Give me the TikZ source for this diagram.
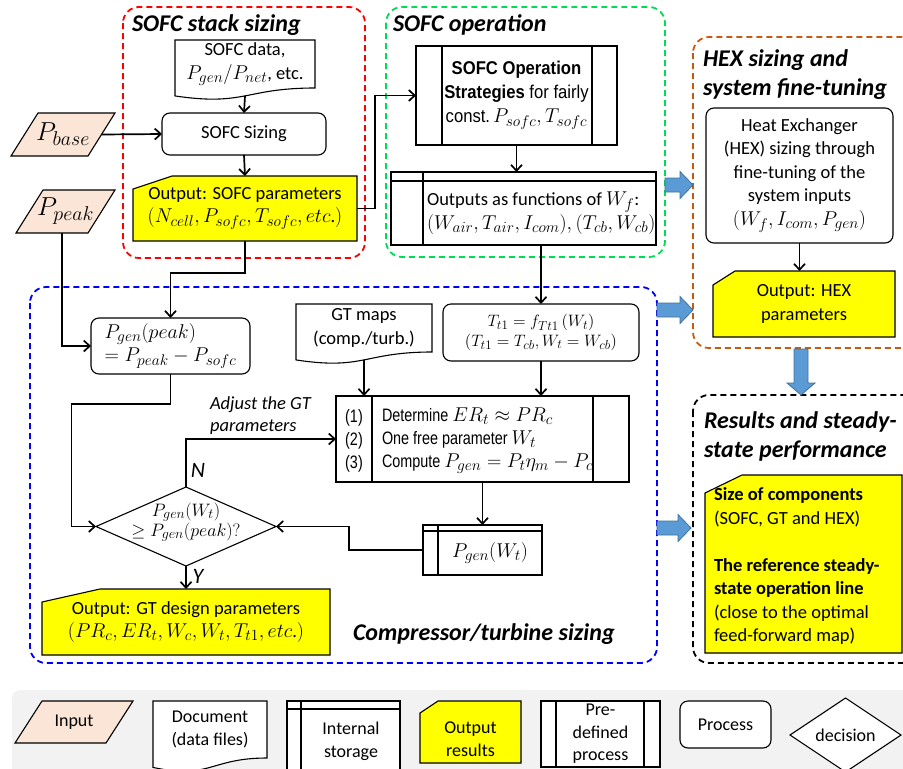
\RequirePackage{fix-cm}
\documentclass[tikz,border=0pt]{standalone}
\usepackage{fontspec}
\setmainfont{Carlito}
\newfontfamily\arialn[FakeStretch=0.9]{Liberation Sans}
\newfontfamily\arialnn[FakeStretch=0.8]{Liberation Sans}
\DeclareMathSizes{18.5}{20}{15.5}{12}
\DeclareMathSizes{18}{20}{15.5}{12}
\DeclareMathSizes{22}{26}{20}{15}
\DeclareMathSizes{17}{18}{14}{11}
\DeclareMathSizes{15.5}{16.5}{13}{10}
\usetikzlibrary{arrows.meta,calc}
\pgfdeclarelayer{bg}
\pgfsetlayers{bg,main}
\definecolor{peach}{HTML}{FBE5D6}
\definecolor{yel}{HTML}{FFFF00}
\definecolor{gbox}{HTML}{00DD55}
\definecolor{obox}{HTML}{C55A11}
\definecolor{barrow}{HTML}{5B9BD5}
\definecolor{barrowline}{HTML}{41719C}
\definecolor{legbg}{HTML}{F2F2F2}
\tikzset{
  every node/.style={inner sep=0pt, outer sep=0pt, font=\fontsize{18.5}{23.5}\selectfont},
  sz/.style 2 args={minimum width=#1pt, minimum height=#2pt},
  ttl/.style={font=\fontsize{24}{29}\selectfont\bfseries\itshape, anchor=base west},
  frame/.style={draw=black, line width=1.1pt},
  procbox/.style={frame, rounded corners=8pt, fill=white},
  conn/.style={line width=1.7pt, -{Straight Barb[length=6pt,width=11pt,line width=1.7pt]}},
  grp/.style={line width=1.8pt, dash pattern=on 6pt off 4pt, rounded corners=16pt},
  blk/.style={fill=barrow, draw=barrowline, line width=0.8pt},
  legtxt/.style={font=\fontsize{18}{23}\selectfont, align=center},
}
\newcommand\cardbg[3]{\begin{pgfonlayer}{bg}\draw[frame, fill=yel] ([yshift=-#3pt]#1.north west) -- ([xshift=#2pt]#1.north west) -- (#1.north east) -- (#1.south east) -- (#1.south west) -- cycle;\end{pgfonlayer}}
\newcommand\docbg[1]{\begin{pgfonlayer}{bg}\draw[frame, fill=white] (#1.north west) -- (#1.north east) -- (#1.south east) .. controls (#1.south) and ($(#1.south)!-0.383!(#1.north)$) .. ($(#1.south west)!-0.165!(#1.north west)$) -- cycle;\end{pgfonlayer}}
\newcommand\storebg[3]{\begin{pgfonlayer}{bg}\draw[frame, fill=white] (#1.north west) rectangle (#1.south east);
 \draw[frame] ([yshift=-#2pt]#1.north west) -- ([yshift=-#2pt]#1.north east);
 \draw[frame] ([xshift=#3pt]#1.north west) -- ([xshift=#3pt]#1.south west);\end{pgfonlayer}}
\newcommand\predefbg[3]{\begin{pgfonlayer}{bg}\draw[frame, fill=white] (#1.north west) rectangle (#1.south east);
 \draw[frame] ([xshift=#2pt]#1.north west) -- ([xshift=#2pt]#1.south west);
 \draw[frame] ([xshift=-#3pt]#1.north east) -- ([xshift=-#3pt]#1.south east);\end{pgfonlayer}}
\newcommand\parabg[2]{\begin{pgfonlayer}{bg}\draw[frame, fill=peach] ([xshift=#2pt]#1.north west) -- (#1.north east) -- ([xshift=-#2pt]#1.south east) -- (#1.south west) -- cycle;\end{pgfonlayer}}
\newcommand\diabg[1]{\begin{pgfonlayer}{bg}\draw[frame, fill=white] (#1.west) -- (#1.north) -- (#1.east) -- (#1.south) -- cycle;\end{pgfonlayer}}
\newcommand\barrowR[3]{\filldraw[blk] (#1,{#3-7}) -- ({#2-13},{#3-7}) -- ({#2-13},{#3-13.5}) -- (#2,#3) -- ({#2-13},{#3+13.5}) -- ({#2-13},{#3+7}) -- (#1,{#3+7}) -- cycle;}
\newcommand\barrowD[3]{\filldraw[blk] ({#1-7},#2) -- ({#1-7},{#3-12}) -- ({#1-14},{#3-12}) -- (#1,#3) -- ({#1+14},{#3-12}) -- ({#1+7},{#3-12}) -- ({#1+7},#2) -- cycle;}
\begin{document}
\begin{tikzpicture}[x=1pt,y=-1pt]
\useasboundingbox (0,0) rectangle (903,769);
\clip (0,0) rectangle (903,769);
% legend background and group frames
\begin{pgfonlayer}{bg}
\fill[legbg, rounded corners=8pt] (12,690) rectangle (930,800);
\draw[grp, draw=red] (123,7) rectangle (365,258);
\draw[grp, draw=gbox] (386,7) rectangle (665,257);
\draw[grp, draw=obox] (693,37) rectangle (940,348);
\draw[grp, draw=blue] (30,287) rectangle (657,663);
\draw[grp, draw=black] (693,395) rectangle (940,663);
\end{pgfonlayer}
% titles
\node[ttl] (t1) at (132,31) {SOFC stack sizing};
\node[ttl] (t2) at (393,31) {SOFC operation};
\node[ttl] (t3a) at (703,66) {HEX sizing and};
\node[ttl] (t3b) at (703,95) {system fine-tuning};
\node[ttl] (t4a) at (704,428) {Results and steady-};
\node[ttl] (t4b) at (704,457) {state performance};
\node[ttl] (t5) at (353,640) {Compressor/turbine sizing};
% SOFC stack sizing
\node[sz={140}{48}, align=center] (doc1) at (245,64) {SOFC data,\\$P_{gen}/P_{net}$, etc.};
\docbg{doc1}
\node[procbox, sz={164}{42}] (sizing) at (244,134) {SOFC Sizing};
\node[sz={224}{65}, align=center] (out1) at (245,208.5) {Output: SOFC parameters\\$(N_{cell},P_{sofc},T_{sofc},etc$.$)$};
\cardbg{out1}{39}{13}
\node[sz={104}{43}, font=\fontsize{22}{26}\selectfont] (pbase) at (63,134.5) {$P_{base}$};
\parabg{pbase}{27}
\node[sz={99}{43}, font=\fontsize{22}{26}\selectfont] (ppeak) at (65.5,211.5) {$P_{peak}$};
\parabg{ppeak}{27}
% SOFC operation
\node[sz={201}{99}, align=center, font=\arialn\fontsize{18.5}{24}\selectfont] (ops) at (516.5,95.5) {\textbf{SOFC Operation}\\\textbf{Strategies} for fairly\\const.\,$P_{sofc}, T_{sofc}$};
\predefbg{ops}{26}{25}
\node[sz={265}{73}] (outs) at (523.5,208.5) {};
\storebg{outs}{9}{32}
\node[anchor=west, align=left] (outstxt) at (427,213) {Outputs as functions of $W_f$:\\$(W_{air},T_{air},I_{com}),(T_{cb},W_{cb})$};
% HEX
\node[procbox, sz={187}{135}, align=center] (hexproc) at (799.5,175.5) {Heat Exchanger\\(HEX) sizing through\\fine-tuning of the\\system inputs\\$(W_f, I_{com}, P_{gen})$};
\node[sz={182}{66}, align=center] (hexout) at (804,304) {Output: HEX\\parameters};
\cardbg{hexout}{22}{14}
% results
\node[sz={197}{178}] (res) at (803.5,564) {};
\cardbg{res}{37}{18}
\node[anchor=west, align=left] (restxt) at (714,566) {\textbf{Size of components}\\(SOFC, GT and HEX)\\[23.5pt]\textbf{The reference steady-}\\\textbf{state operation line}\\(close to the optimal\\feed-forward map)};
% compressor / turbine sizing
\node[procbox, sz={159}{56}, align=left] (pgenpeak) at (170.5,346) {$P_{gen}(peak)$\\$= P_{peak} - P_{sofc}$};
\node[sz={136}{48}, align=center] (gtmaps) at (364,328) {GT maps\\(comp./turb.)};
\docbg{gtmaps}
\node[procbox, sz={196}{57}, align=center, font=\fontsize{15.5}{19.5}\selectfont] (tbox) at (541,332.5) {$T_{t1} = f_{Tt1}\,(W_t)$\\$(T_{t1} = T_{cb}, W_t = W_{cb})$};
\node[sz={293}{86}] (gtpre) at (482.5,439) {};
\predefbg{gtpre}{36}{36}
\node[align=center, font=\arialnn\fontsize{18}{23}\selectfont] (gtnum) at (354,441) {(1)\\(2)\\(3)};
\node[anchor=west, align=left, font=\arialnn\fontsize{18}{23}\selectfont] (gttxt) at (382,441) {Determine $ER_t \approx PR_c$\\One free parameter $W_t$\\Compute $P_{gen} = P_t\eta_m - P_c$};
\node[sz={119}{50}] (pgenst) at (482.5,550) {};
\storebg{pgenst}{6}{15}
\node (pgensttxt) at (490,553) {$P_{gen}(W_t)$};
\node[sz={180}{79}] (dec) at (186,526.5) {};
\diabg{dec}
\node[align=center, font=\fontsize{17}{20}\selectfont] (dectxt) at (186,522) {$P_{gen}(W_t)$\\$\geq P_{gen}(peak)?$};
\node[sz={288}{66}, align=center] (outgt) at (186,622) {Output: GT design parameters\\$(PR_c,ER_t,W_c,W_t,T_{t1},etc$.$)$};
\cardbg{outgt}{58}{13}
\node[anchor=west, align=left, font=\fontsize{18.5}{22}\selectfont\itshape] (adj) at (210,416) {Adjust the GT\\parameters};
\node[font=\fontsize{22}{26}\selectfont\itshape] (nlab) at (198,470) {N};
\node[font=\fontsize{22}{26}\selectfont\itshape] (ylab) at (198,576) {Y};
% connectors
\draw[conn] ([yshift=-8pt]doc1.south) -- (sizing.north);
\draw[conn] ([xshift=-13pt]pbase.east) -- (sizing.west);
\draw[conn] (sizing.south) -- (out1.north);
\draw[conn] (out1.east) -- ++(18,0) |- (ops.west);
\draw[conn] (ops.south) -- (ops.south |- outs.north);
\draw[conn] (outs.south -| tbox.north) -- (tbox.north);
\draw[conn] (out1.south) -- ++(0,32) -| (pgenpeak.north);
\draw[conn] ([xshift=-3.5pt]ppeak.south) |- (pgenpeak.west);
\draw[conn] (pgenpeak.south) -- ++(0,30) -- ++(-99,0) |- (dec.west);
\draw[conn] (dec.north) |- (gtpre.west);
\draw[conn] ([yshift=-8pt]gtmaps.south) -- (gtmaps.south |- gtpre.north);
\draw[conn] (tbox.south) -- (tbox.south |- gtpre.north);
\draw[conn] (pgenst.north |- gtpre.south) -- (pgenst.north);
\draw[conn] (pgenst.west) -- ++(-74,0) |- (dec.east);
\draw[conn] (dec.south) -- (outgt.north);
\draw[conn] (hexproc.south) -- (hexproc.south |- hexout.north);
% block arrows
\barrowR{665}{693}{185}
\barrowR{657}{693}{310}
\barrowR{657}{691}{528}
\barrowD{801}{349}{395}
% legend
\node[sz={118}{42}, legtxt] (lin) at (74,722) {Input};
\parabg{lin}{27}
\node[sz={114}{57}, legtxt] (ldoc) at (210,729.5) {Document\\(data files)};
\docbg{ldoc}
\node[sz={113}{90}] (lst) at (343.5,746) {};
\storebg{lst}{8}{14}
\node[legtxt] (lsttxt) at (351,741) {Internal\\storage};
\node[sz={101}{62}] (lout) at (470.5,732) {};
\cardbg{lout}{18}{12}
\node[legtxt] (louttxt) at (470.5,739.5) {Output\\results};
\node[sz={119}{66}, font=\fontsize{18}{22.5}\selectfont, align=center] (lpre) at (600.5,734) {Pre-\\defined\\process};
\predefbg{lpre}{15}{16}
\node[procbox, sz={91}{47}, legtxt] (lproc) at (725.5,724.5) {Process};
\node[sz={111}{74}, legtxt] (ldec) at (845.5,735) {decision};
\diabg{ldec}
\end{tikzpicture}
\end{document}
